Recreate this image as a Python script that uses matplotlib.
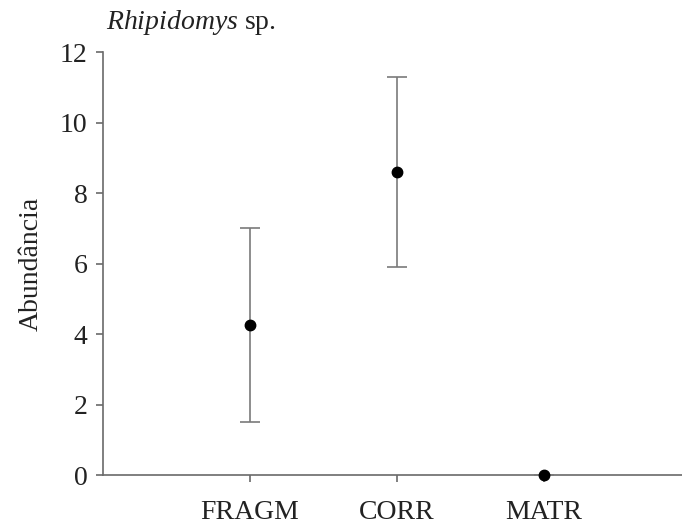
import numpy as np
import matplotlib.pyplot as plt

plt.rcParams['font.family'] = ['Liberation Serif', 'DejaVu Serif']
plt.rcParams['mathtext.fontset'] = 'custom'
plt.rcParams['mathtext.rm'] = 'Liberation Serif'
plt.rcParams['mathtext.it'] = 'Liberation Serif:italic'

categorias = ["FRAGM", "CORR", "MATR"]
media = [4.25, 8.6, 0.0]
erro = [2.75, 2.7, 0.0]

fig = plt.figure(figsize=(6.82, 5.29), dpi=100)
ax = fig.add_axes([0.151, 0.102, 0.862, 0.7996])

x = np.arange(1, len(categorias) + 1)
ax.errorbar(x, media, yerr=erro, fmt='o', color='black', markersize=7.5,
            ecolor='#7a7a7a', elinewidth=1.2, capsize=7, capthick=1.2,
            clip_on=False, zorder=5)

ax.set_xlim(0, 4)
ax.set_ylim(0, 12)
ax.set_yticks(np.arange(0, 13, 2))
ax.set_xticks(x)
ax.set_xticklabels(categorias)

for s in ['top', 'right']:
    ax.spines[s].set_visible(False)
for s in ['left', 'bottom']:
    ax.spines[s].set_color('#6a6a6a')
    ax.spines[s].set_linewidth(1.2)
ax.tick_params(axis='both', colors='#6a6a6a', labelcolor='#222222',
               labelsize=20, length=5, width=1.2)
ax.tick_params(axis='x', pad=13)
ax.tick_params(axis='y', pad=6)

ax.set_ylabel("Abundância", fontsize=20, color='#222222', labelpad=12)
ax.text(0.005, 1.035, r"$\it{Rhipidomys}$ sp.", transform=ax.transAxes,
        fontsize=20, color='#222222', ha='left', va='bottom')

fig.savefig("out.png", dpi=100)
